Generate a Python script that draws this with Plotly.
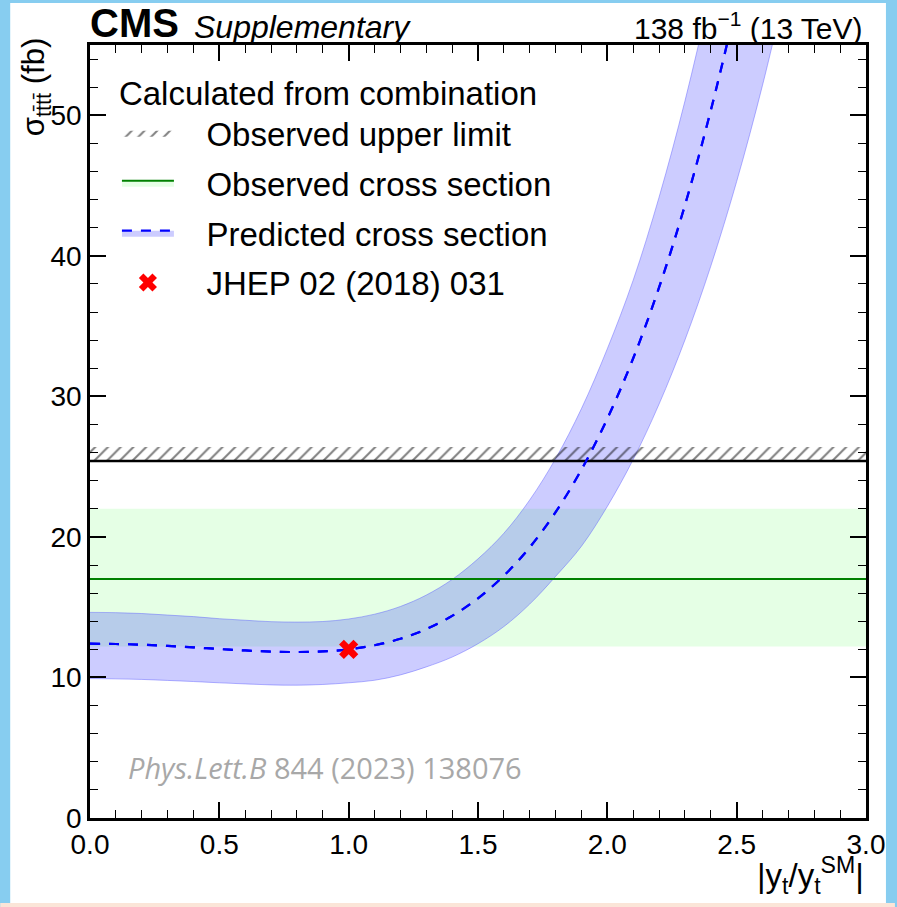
import plotly.graph_objects as go

# ---------------- data ----------------
kt = [0.0, 0.1, 0.2, 0.3, 0.4, 0.5, 0.6, 0.7, 0.8, 0.9, 1.0, 1.1, 1.2, 1.3,
      1.4, 1.5, 1.6, 1.7, 1.8, 1.9, 2.0, 2.1, 2.2, 2.3, 2.4, 2.5, 2.6, 2.7]
sigma_pred = [12.40, 12.38, 12.33, 12.24, 12.14, 12.02, 11.92, 11.84, 11.81, 11.85,
              12.00, 12.29, 12.75, 13.44, 14.38, 15.63, 17.24, 19.26, 21.76, 24.79,
              28.42, 32.71, 37.75, 43.60, 50.35, 58.07, 66.85, 76.80]
sigma_pred_up = [14.63, 14.61, 14.55, 14.44, 14.33, 14.18, 14.07, 13.97, 13.94, 13.98,
                 14.16, 14.50, 15.05, 15.86, 16.97, 18.44, 20.26, 22.63, 25.57, 29.13,
                 33.39, 38.27, 44.17, 51.01, 58.91, 67.90, 78.20, 89.90]
sigma_pred_dn = [9.92, 9.90, 9.86, 9.79, 9.71, 9.62, 9.54, 9.47, 9.45, 9.50,
                 9.62, 9.80, 10.18, 10.75, 11.45, 12.40, 13.62, 15.22, 17.19, 19.34,
                 22.17, 25.51, 29.45, 34.01, 39.27, 45.29, 52.14, 59.90]

obs_limit = 25.4
obs_xsec = 17.0
obs_xsec_up = 22.0
obs_xsec_dn = 12.2

jhep_kt = [1.0]
jhep_sigma = [12.0]

x_span = [0.0, 3.0]
x_ticks = [0.0, 0.5, 1.0, 1.5, 2.0, 2.5, 3.0]
y_ticks = [0, 10, 20, 30, 40, 50]

# ---------------- styles ----------------
FONT = "Liberation Sans"
hatch_height = 1.0
W, H = 897, 907
ML, MR, MT, MB = 90, 29, 45, 89
PW, PH = W - ML - MR, H - MT - MB


def px_x(p):
    return (p - ML) / PW


def px_y(p):
    return (H - MB - p) / PH


GREEN_FILL = "rgba(0,255,0,0.10)"
BLUE_FILL = "rgba(0,0,255,0.20)"
BLUE_EDGE = "rgba(90,90,255,0.45)"
SP = "\u00a0\u00a0\u00a0"

fig = go.Figure()

# observed cross section band + line
fig.add_trace(go.Scatter(x=x_span, y=[obs_xsec_dn] * 2, mode="lines",
                         line=dict(width=0), showlegend=False, hoverinfo="skip"))
fig.add_trace(go.Scatter(x=x_span, y=[obs_xsec] * 2, mode="lines", fill="tonexty",
                         fillcolor=GREEN_FILL, line=dict(color="green", width=2),
                         name=SP + "Observed cross section", legendgroup="b", legendrank=2))
fig.add_trace(go.Scatter(x=x_span, y=[obs_xsec_up] * 2, mode="lines", fill="tonexty",
                         fillcolor=GREEN_FILL, line=dict(width=0),
                         showlegend=False, hoverinfo="skip"))

# predicted band + line
fig.add_trace(go.Scatter(x=kt, y=sigma_pred_dn, mode="lines", line=dict(color=BLUE_EDGE, width=1, shape="spline"),
                         showlegend=False, hoverinfo="skip"))
fig.add_trace(go.Scatter(x=kt, y=sigma_pred, mode="lines", fill="tonexty", fillcolor=BLUE_FILL,
                         line=dict(color="blue", width=2.2, dash="10px,9px", shape="spline"),
                         name=SP + "Predicted cross section", legendgroup="c", legendrank=3))
fig.add_trace(go.Scatter(x=kt, y=sigma_pred_up, mode="lines", fill="tonexty", fillcolor=BLUE_FILL,
                         line=dict(color=BLUE_EDGE, width=1, shape="spline"),
                         showlegend=False, hoverinfo="skip"))

# observed upper limit (hatched)
fig.add_trace(go.Scatter(x=x_span, y=[obs_limit] * 2, mode="lines",
                         line=dict(color="black", width=2.5), showlegend=False, hoverinfo="skip"))
fig.add_trace(go.Scatter(x=x_span, y=[obs_limit + hatch_height] * 2, mode="lines", fill="tonexty",
                         fillcolor="rgba(0,0,0,0)",
                         fillpattern=dict(shape="/", fgcolor="black", bgcolor="rgba(0,0,0,0)",
                                          size=9, solidity=0.22),
                         line=dict(width=0), name=SP + "Observed upper limit",
                         legendgroup="a", legendrank=1))

# lines redrawn on top
fig.add_trace(go.Scatter(x=x_span, y=[obs_xsec] * 2, mode="lines",
                         line=dict(color="green", width=2), showlegend=False, hoverinfo="skip"))
fig.add_trace(go.Scatter(x=kt, y=sigma_pred, mode="lines",
                         line=dict(color="blue", width=2.2, dash="10px,9px", shape="spline"),
                         showlegend=False, hoverinfo="skip"))

# JHEP point
fig.add_trace(go.Scatter(x=jhep_kt, y=jhep_sigma, mode="markers",
                         marker=dict(symbol="x", size=17, color="red", line=dict(width=0)),
                         name=SP + "JHEP 02 (2018) 031", legendgroup="d", legendrank=4))

axis_common = dict(
    showline=True, linecolor="black", linewidth=2.5, mirror="allticks",
    ticks="inside", ticklen=16, tickwidth=1.5, tickcolor="black",
    showgrid=False, zeroline=False,
    tickfont=dict(family=FONT, size=28, color="black"),
)

fig.update_xaxes(range=x_span, tickvals=x_ticks, ticktext=[f"{v:.1f}" for v in x_ticks],
                 minor=dict(dtick=0.1, ticks="inside", ticklen=8, tickwidth=1.2,
                            tickcolor="black", showgrid=False),
                 **axis_common)
fig.update_yaxes(range=[0, 55], tickvals=y_ticks,
                 minor=dict(dtick=2, ticks="inside", ticklen=8, tickwidth=1.2,
                            tickcolor="black", showgrid=False),
                 **axis_common)

annotations = [
    dict(text="<b>CMS</b>", x=-0.002, y=1.0, yshift=-2, xref="paper", yref="paper", xanchor="left",
         yanchor="bottom", showarrow=False, font=dict(family=FONT, size=40, color="black")),
    dict(text="<i>Supplementary</i>", x=px_x(192), y=1.0, yshift=-2, xref="paper", yref="paper",
         xanchor="left", yanchor="bottom", showarrow=False,
         font=dict(family=FONT, size=32, color="black")),
    dict(text="138 fb<sup>\u22121</sup> (13 TeV)", x=px_x(867), y=1.0, yshift=-2, xref="paper", yref="paper",
         xanchor="right", yanchor="bottom", showarrow=False,
         font=dict(family=FONT, size=30, color="black")),
    dict(text="\u03c3<sub>tt\u0304tt\u0304</sub> (fb)", x=px_x(36), y=px_y(36),
         xref="paper", yref="paper", xanchor="center", yanchor="top", textangle=-90,
         showarrow=False, font=dict(family=FONT, size=31, color="black")),
    dict(text="|y<sub>t</sub>/y<sub>t</sub><sup>SM</sup>|", x=px_x(868), y=px_y(850),
         xref="paper", yref="paper", xanchor="right", yanchor="top", showarrow=False,
         font=dict(family=FONT, size=33, color="black")),
    dict(text="<i>Phys.Lett.B</i> 844 (2023) 138076", x=px_x(126), y=px_y(767),
         xref="paper", yref="paper", xanchor="left", yanchor="middle", showarrow=False,
         font=dict(family="Open Sans", size=29, color="#a8a8a8")),
]

shapes = [
    dict(type="rect", xref="paper", yref="paper", x0=px_x(10), x1=px_x(888),
         y0=px_y(903), y1=px_y(3), fillcolor="white", line=dict(width=0), layer="below"),
    dict(type="rect", xref="paper", yref="paper", x0=px_x(0), x1=px_x(W),
         y0=px_y(H), y1=px_y(903), fillcolor="#fbe5d8", line=dict(width=0), layer="below"),
]

fig.update_layout(
    width=W, height=H, autosize=False,
    margin=dict(l=ML, r=MR, t=MT, b=MB, pad=0),
    paper_bgcolor="#87cdf0", plot_bgcolor="rgba(0,0,0,0)",
    font=dict(family=FONT, color="black"),
    annotations=annotations, shapes=shapes,
    legend=dict(
        title=dict(text="Calculated from combination", font=dict(family=FONT, size=33, color="black")),
        x=px_x(117), y=px_y(62), xanchor="left", yanchor="top",
        font=dict(family=FONT, size=33, color="black"),
        bgcolor="rgba(0,0,0,0)", borderwidth=0,
        itemwidth=52, traceorder="grouped", tracegroupgap=4,
    ),
)

fig.write_html("out.html", config={"displayModeBar": False},
               post_script="document.body.style.margin='0';document.body.style.overflow='hidden';")
